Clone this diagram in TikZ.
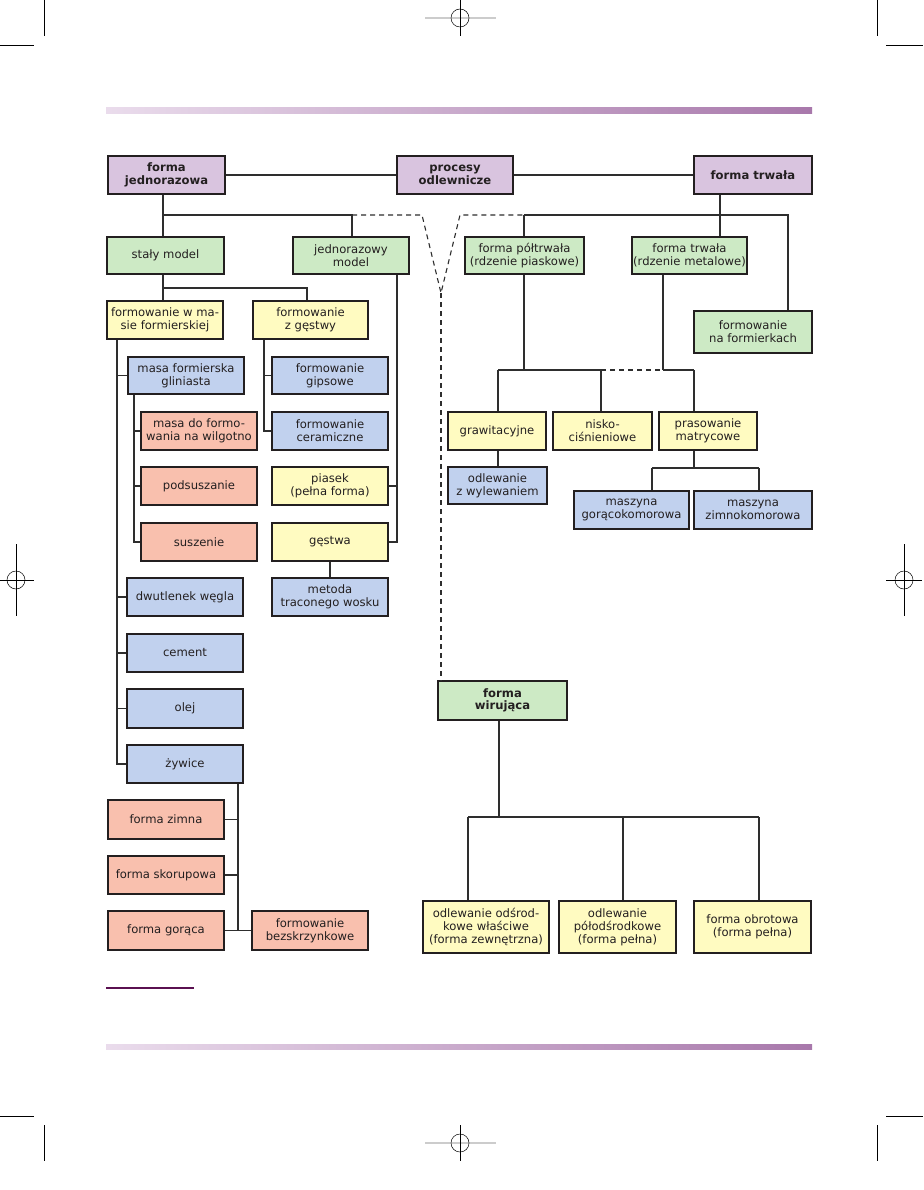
\documentclass[tikz,border=0pt]{standalone}
\usepackage{fontspec}
\setmainfont{DejaVu Sans}
\usetikzlibrary{calc}
\definecolor{ink}{HTML}{231F20}
\definecolor{lc}{HTML}{2E2E2E}
\definecolor{cpur}{HTML}{D9C4DF}
\definecolor{cgre}{HTML}{CDEAC5}
\definecolor{cyel}{HTML}{FFFBC1}
\definecolor{cblu}{HTML}{C1D1EE}
\definecolor{cpin}{HTML}{F9C0AE}
\definecolor{gradL}{HTML}{EADCEC}
\definecolor{gradR}{HTML}{A878AB}
\definecolor{darkpur}{HTML}{5A1050}
\newcommand\bxn[7]{\node[box,#2,minimum width={(#5-#3)*1pt},minimum height={(#6-#4)*1pt}] (#1) at ({(#3+#5)/2},{(#4+#6)/2}) {#7};}
\begin{document}
\begin{tikzpicture}[x=1pt,y=-1pt,
  box/.style={draw=ink,line width=1.1pt,inner sep=0pt,align=center,text=ink,
    font=\fontsize{11.6}{12.8}\selectfont},
  pur/.style={fill=cpur,font=\fontsize{11.6}{12.4}\selectfont\bfseries},
  gre/.style={fill=cgre},
  greb/.style={fill=cgre,font=\fontsize{11.6}{12.4}\selectfont\bfseries},
  yel/.style={fill=cyel},
  blu/.style={fill=cblu},
  pin/.style={fill=cpin},
  ln/.style={draw=lc,line width=1.1pt},
  dsh/.style={draw=lc,line width=1.1pt,dash pattern=on 5pt off 4pt},
  thinmark/.style={draw=black,line width=0.5pt},
  graymark/.style={draw=black!20,line width=1.6pt}]
\useasboundingbox (0,0) rectangle (923,1190);
\fill[white] (0,0) rectangle (923,1190);

% ---- printer's marks ----
\draw[graymark] (425,18) -- (496,18);
\draw[thinmark] (460,0) -- (460,36);
\draw[thinmark] (460,18) circle (9);
\draw[graymark] (425,1143) -- (496,1143);
\draw[thinmark] (460,1125) -- (460,1161);
\draw[thinmark] (460,1143) circle (9);
\draw[thinmark] (16,544) -- (16,616);
\draw[thinmark] (0,580) -- (34,580);
\draw[thinmark] (16,580) circle (9);
\draw[thinmark] (904,544) -- (904,616);
\draw[thinmark] (886,580) -- (922,580);
\draw[thinmark] (904,580) circle (9);
\draw[thinmark] (44,0) -- (44,36);
\draw[thinmark] (0,45) -- (34,45);
\draw[thinmark] (877,0) -- (877,36);
\draw[thinmark] (886,45) -- (923,45);
\draw[thinmark] (0,1116) -- (34,1116);
\draw[thinmark] (44,1125) -- (44,1161);
\draw[thinmark] (886,1116) -- (923,1116);
\draw[thinmark] (877,1125) -- (877,1161);

% ---- bars ----
\shade[left color=gradL,right color=gradR] (106,108) rectangle (812,114);
\shade[left color=gradL,right color=gradR] (106,1044) rectangle (812,1049);
\draw[draw=darkpur,line width=1.2pt] (106,988) -- (194,988);

% ---- nodes ----
\bxn{fj}{pur}{108}{156}{225}{194}{forma\\jednorazowa}
\bxn{po}{pur}{397}{156}{513}{194}{procesy\\odlewnicze}
\bxn{ft}{pur}{694}{156}{812}{194}{forma trwała}

\bxn{sm}{gre}{107}{237}{224}{274}{stały model}
\bxn{jm}{gre}{293}{237}{409}{274}{jednorazowy\\model}
\bxn{fp}{gre}{465}{237}{584}{274}{forma półtrwała\\(rdzenie piaskowe)}
\bxn{fr}{gre}{632}{237}{747}{274}{forma trwała\\(rdzenie metalowe)}
\bxn{fn}{gre}{694}{311}{812}{353}{formowanie\\na formierkach}

\bxn{wm}{yel}{107}{301}{223}{339}{formowanie w ma-\\sie formierskiej}
\bxn{zg}{yel}{253}{301}{368}{339}{formowanie\\z gęstwy}

\bxn{mg}{blu}{128}{357}{244}{394}{masa formierska\\gliniasta}
\bxn{fg}{blu}{272}{357}{388}{394}{formowanie\\gipsowe}
\bxn{mw}{pin}{141}{412}{257}{450}{masa do formo-\\wania na wilgotno}
\bxn{fc}{blu}{272}{412}{388}{450}{formowanie\\ceramiczne}
\bxn{ps}{pin}{141}{467}{257}{505}{podsuszanie}
\bxn{pi}{yel}{272}{467}{388}{505}{piasek\\(pełna forma)}
\bxn{su}{pin}{141}{523}{257}{561}{suszenie}
\bxn{ge}{yel}{272}{523}{388}{561}{gęstwa}
\bxn{dw}{blu}{127}{578}{243}{616}{dwutlenek węgla}
\bxn{mt}{blu}{272}{578}{388}{616}{metoda\\traconego wosku}
\bxn{ce}{blu}{127}{634}{243}{672}{cement}
\bxn{ol}{blu}{127}{689}{243}{728}{olej}
\bxn{zy}{blu}{127}{745}{243}{783}{żywice}
\bxn{fz}{pin}{108}{800}{224}{839}{forma zimna}
\bxn{fs}{pin}{108}{856}{224}{894}{forma skorupowa}
\bxn{fgo}{pin}{108}{911}{224}{950}{forma gorąca}
\bxn{fb}{pin}{252}{911}{368}{950}{formowanie\\bezskrzynkowe}

\bxn{gr}{yel}{448}{412}{546}{450}{grawitacyjne}
\bxn{ni}{yel}{553}{412}{652}{450}{nisko-\\ciśnieniowe}
\bxn{pm}{yel}{659}{412}{757}{450}{prasowanie\\matrycowe}
\bxn{oz}{blu}{448}{467}{547}{504}{odlewanie\\z wylewaniem}
\bxn{mgk}{blu}{574}{491}{689}{529}{maszyna\\gorącokomorowa}
\bxn{mzk}{blu}{694}{491}{812}{529}{maszyna\\zimnokomorowa}

\bxn{fw}{greb}{438}{681}{567}{720}{forma\\wirująca}
\bxn{oa}{yel}{423}{901}{549}{953}{odlewanie odśrod-\\kowe właściwe\\(forma zewnętrzna)}
\bxn{ob}{yel}{559}{901}{676}{953}{odlewanie\\półodśrodkowe\\(forma pełna)}
\bxn{oc}{yel}{694}{901}{811}{953}{forma obrotowa\\(forma pełna)}

% ---- junction coordinates ----
\coordinate (hL) at (163,215);
\coordinate (hJ) at (352,215);
\coordinate (vL) at (422,215);
\coordinate (vB) at (441,293);
\coordinate (vR) at (460,215);
\coordinate (hP) at (524,215);
\coordinate (hF) at (788,215);
\coordinate (tR) at (720,215);
\coordinate (s1) at (163,288);
\coordinate (s2) at (307,288);
\coordinate (jx) at (397,0);
\coordinate (wx) at (117,0);
\coordinate (mx) at (134,0);
\coordinate (zx) at (264,0);
\coordinate (yx) at (238,0);
\coordinate (r1) at (524,370);
\coordinate (g1) at (498,370);
\coordinate (n1) at (601,370);
\coordinate (m1) at (663,370);
\coordinate (p1) at (694,370);
\coordinate (q1) at (694,468);
\coordinate (q2) at (652,468);
\coordinate (q3) at (759,468);
\coordinate (w0) at (499,817);
\coordinate (w1) at (468,817);
\coordinate (w2) at (623,817);
\coordinate (w3) at (759,817);

% ---- connectors ----
\draw[ln] (fj.east) -- (po.west);
\draw[ln] (po.east) -- (ft.west);
\draw[ln] (fj.south -| hL) -- (sm.north -| hL);
\draw[ln] (hL) -- (hJ) -- (jm.north -| hJ);
\draw[dsh] (hJ) -- (vL) -- (vB) -- (vR) -- (hP);
\draw[dsh] (vB) -- (fw.north -| vB);
\draw[ln] (hP) -- (hF) -- (fn.north -| hF);
\draw[ln] (hP) -- (fp.north -| hP);
\draw[ln] (ft.south -| tR) -- (fr.north -| tR);

\draw[ln] (sm.south -| s1) -- (wm.north -| s1);
\draw[ln] (s1) -- (s2) -- (zg.north -| s2);

\draw[ln] (jm.south -| jx) -- (ge.east -| jx) -- (ge.east);
\draw[ln] (pi.east) -- (pi.east -| jx);

\draw[ln] (wm.south -| wx) -- (zy.west -| wx) -- (zy.west);
\foreach \n in {mg,dw,ce,ol} \draw[ln] (\n.west -| wx) -- (\n.west);
\draw[ln] (mg.south -| mx) -- (su.west -| mx) -- (su.west);
\foreach \n in {mw,ps} \draw[ln] (\n.west -| mx) -- (\n.west);
\draw[ln] (zg.south -| zx) -- (fc.west -| zx) -- (fc.west);
\draw[ln] (fg.west -| zx) -- (fg.west);
\draw[ln,line width=2.2pt] (ge.south) -- (mt.north);
\draw[ln] (zy.south -| yx) -- (fgo.east -| yx);
\foreach \n in {fz,fs} \draw[ln] (\n.east) -- (\n.east -| yx);
\draw[ln] (fgo.east) -- (fb.west);

\draw[ln] (fp.south -| r1) -- (r1);
\draw[ln] (g1) -- (n1);
\draw[dsh] (n1) -- (m1);
\draw[ln] (m1) -- (p1);
\draw[ln] (fr.south -| m1) -- (m1);
\draw[ln] (g1) -- (gr.north -| g1);
\draw[ln] (n1) -- (ni.north -| n1);
\draw[ln] (p1) -- (pm.north -| p1);
\draw[ln] (gr.south -| g1) -- (oz.north -| g1);
\draw[ln] (pm.south -| q1) -- (q1);
\draw[ln] (q2) -- (q3);
\draw[ln] (q2) -- (mgk.north -| q2);
\draw[ln] (q3) -- (mzk.north -| q3);

\draw[ln] (fw.south -| w0) -- (w0);
\draw[ln] (w1) -- (w3);
\draw[ln] (w1) -- (oa.north -| w1);
\draw[ln] (w2) -- (ob.north -| w2);
\draw[ln] (w3) -- (oc.north -| w3);
\end{tikzpicture}
\end{document}
